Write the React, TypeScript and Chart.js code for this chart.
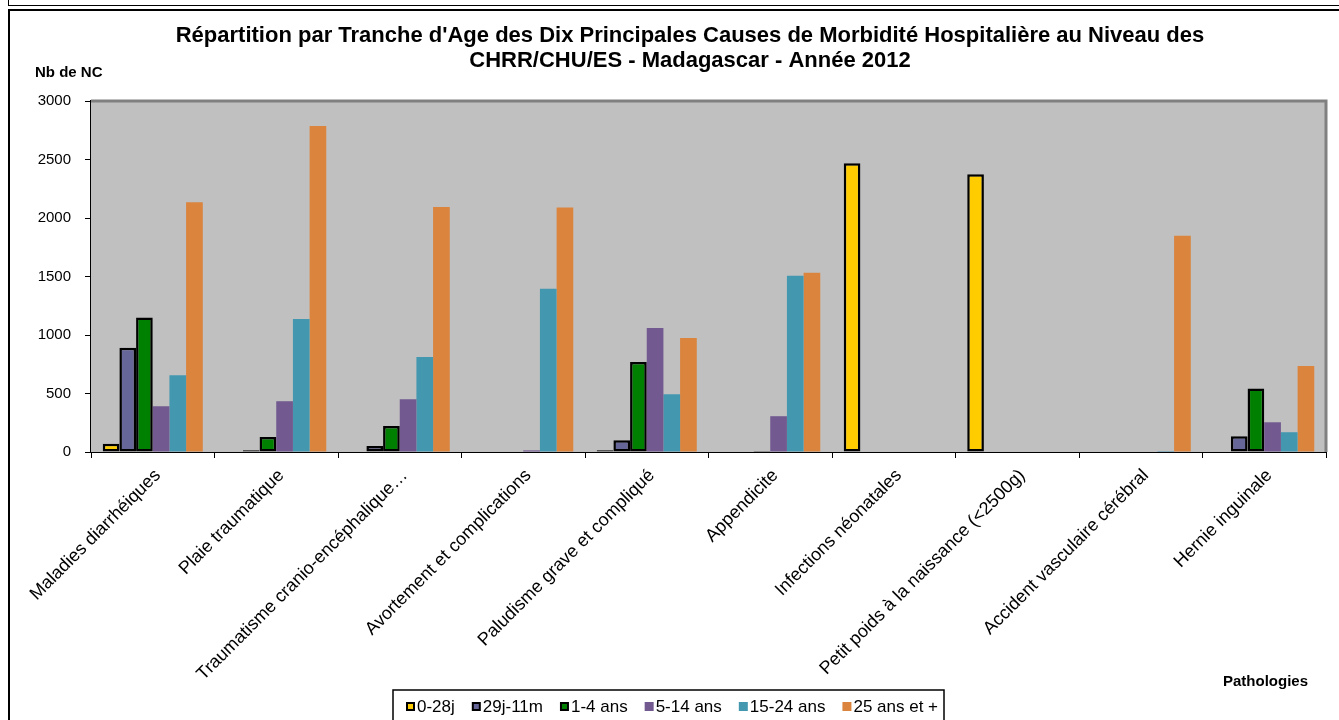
import { useEffect, useRef } from "react";
import { Chart, registerables } from "chart.js";

Chart.register(...registerables);

const categories = [
  "Maladies diarrhéiques",
  "Plaie traumatique",
  "Traumatisme cranio-encéphalique…",
  "Avortement et complications",
  "Paludisme grave et compliqué",
  "Appendicite",
  "Infections néonatales",
  "Petit poids à la naissance (<2500g)",
  "Accident vasculaire cérébral",
  "Hernie inguinale",
];

const seriesLabels = ["0-28j", "29j-11m", "1-4 ans", "5-14 ans", "15-24 ans", "25 ans et +"];

const v0to28j = [70, 5, 0, 0, 14, 0, 2468, 2374, 0, 5];
const v29jTo11m = [891, 15, 51, 0, 100, 5, 0, 0, 0, 134];
const v1to4 = [1149, 129, 223, 0, 769, 8, 0, 0, 0, 543];
const v5to14 = [391, 434, 451, 14, 1060, 306, 0, 0, 0, 254];
const v15to24 = [657, 1137, 811, 1395, 494, 1506, 0, 0, 8, 169];
const v25plus = [2135, 2786, 2095, 2090, 974, 1531, 0, 0, 1849, 734];

const yMin = 0;
const yMax = 3000;
const yStep = 500;

const titleLines = [
  "Répartition par Tranche d'Age des Dix Principales Causes de Morbidité Hospitalière au Niveau des",
  "CHRR/CHU/ES - Madagascar - Année 2012",
];
const yAxisTitle = "Nb de NC";
const xAxisTitle = "Pathologies";

const seriesColors = ["#FFCC00", "#666699", "#008000", "#725990", "#4398B0", "#DB843D"];
const seriesBordered = [true, true, true, false, false, false];

const FONT = "'Liberation Sans', Arial, sans-serif";

export default function App() {
  const canvasRef = useRef<HTMLCanvasElement | null>(null);

  useEffect(() => {
    const canvas = canvasRef.current;
    if (!canvas) return;
    const allValues = [v0to28j, v29jTo11m, v1to4, v5to14, v15to24, v25plus];

    const decor = {
      id: "decor",
      beforeDatasetsDraw(chart: any) {
        const { ctx, chartArea } = chart;
        ctx.save();
        ctx.fillStyle = "#C0C0C0";
        ctx.fillRect(chartArea.left, chartArea.top, chartArea.right - chartArea.left, chartArea.bottom - chartArea.top);
        ctx.restore();
      },
      afterDraw(chart: any) {
        const { ctx, chartArea } = chart;
        ctx.save();
        // plot-area frame (top / right)
        ctx.strokeStyle = "#808080";
        ctx.lineWidth = 3;
        ctx.beginPath();
        ctx.moveTo(chartArea.left, chartArea.top);
        ctx.lineTo(chartArea.right, chartArea.top);
        ctx.lineTo(chartArea.right, chartArea.bottom);
        ctx.stroke();

        // title
        ctx.fillStyle = "#000";
        ctx.font = `bold 22px ${FONT}`;
        ctx.textAlign = "center";
        ctx.textBaseline = "alphabetic";
        ctx.fillText(titleLines[0], 690, 42);
        ctx.fillText(titleLines[1], 690, 67);

        // axis titles
        ctx.font = `bold 15px ${FONT}`;
        ctx.textAlign = "left";
        ctx.fillText(yAxisTitle, 35, 77);
        ctx.textAlign = "right";
        ctx.fillText(xAxisTitle, 1308, 686);

        // legend
        const boxL = 393;
        const boxT = 690;
        const boxR = 944;
        ctx.strokeStyle = "#000";
        ctx.lineWidth = 1.5;
        ctx.strokeRect(boxL, boxT, boxR - boxL, 40);
        ctx.font = `17px ${FONT}`;
        ctx.textAlign = "left";
        ctx.textBaseline = "middle";
        const cy = 707;
        let x = boxL + 13;
        chart.data.datasets.forEach((ds: any, i: number) => {
          if (seriesBordered[i]) {
            ctx.fillStyle = "#000";
            ctx.fillRect(x, cy - 5, 9, 9);
            ctx.fillStyle = ds.backgroundColor;
            ctx.fillRect(x + 2, cy - 3, 5, 5);
          } else {
            ctx.fillStyle = ds.backgroundColor;
            ctx.fillRect(x, cy - 5, 9, 9);
          }
          ctx.fillStyle = "#000";
          ctx.fillText(ds.label, x + 11, cy);
          x += 11 + ctx.measureText(ds.label).width + 17;
        });
        ctx.restore();
      },
    };

    const chart = new Chart(canvas, {
      type: "bar",
      data: {
        labels: categories,
        datasets: seriesLabels.map((label, i) => ({
          label,
          data: allValues[i],
          backgroundColor: seriesColors[i],
          borderColor: "#000",
          borderWidth: seriesBordered[i] ? 2.5 : 0,
          borderSkipped: false,
          categoryPercentage: 0.81,
          barPercentage: 1,
        })),
      },
      options: {
        responsive: false,
        animation: false,
        devicePixelRatio: 1,
        layout: { padding: { top: 101, right: 13, left: 0, bottom: 0 } },
        plugins: {
          legend: { display: false },
          title: { display: false },
          tooltip: { enabled: false },
        },
        scales: {
          x: {
            type: "category",
            grid: {
              display: true,
              drawOnChartArea: false,
              drawTicks: true,
              tickLength: 6,
              color: "#000",
              offset: true,
            },
            border: { display: true, color: "#000", width: 2 },
            ticks: {
              autoSkip: false,
              maxRotation: 45,
              minRotation: 45,
              padding: 7,
              labelOffset: 5,
              color: "#000",
              font: { family: FONT, size: 18 },
            },
            afterFit: (s: any) => {
              s.height = 268;
            },
          },
          y: {
            min: yMin,
            max: yMax,
            grid: {
              display: true,
              drawOnChartArea: false,
              drawTicks: true,
              tickLength: 6,
              color: "#000",
            },
            border: { display: true, color: "#000", width: 2 },
            ticks: {
              stepSize: yStep,
              padding: 14,
              color: "#000",
              font: { family: FONT, size: 15 },
              callback: (v: any) => String(v),
            },
            afterFit: (s: any) => {
              s.width = 91;
            },
          },
        },
      },
      plugins: [decor],
    });
    return () => chart.destroy();
  }, []);

  return (
    <div
      style={{
        position: "fixed",
        left: 0,
        top: 0,
        width: 1339,
        height: 720,
        overflow: "hidden",
        background: "#fff",
      }}
    >
      <div
        style={{
          position: "absolute",
          left: 8,
          top: -30,
          width: 1400,
          height: 36,
          border: "1.5px solid #000",
          boxSizing: "border-box",
        }}
      />
      <div
        style={{
          position: "absolute",
          left: 8,
          top: 9,
          width: 1400,
          height: 800,
          border: "2px solid #000",
          boxSizing: "border-box",
        }}
      />
      <canvas ref={canvasRef} width={1339} height={720} style={{ position: "absolute", left: 0, top: 0 }} />
    </div>
  );
}
